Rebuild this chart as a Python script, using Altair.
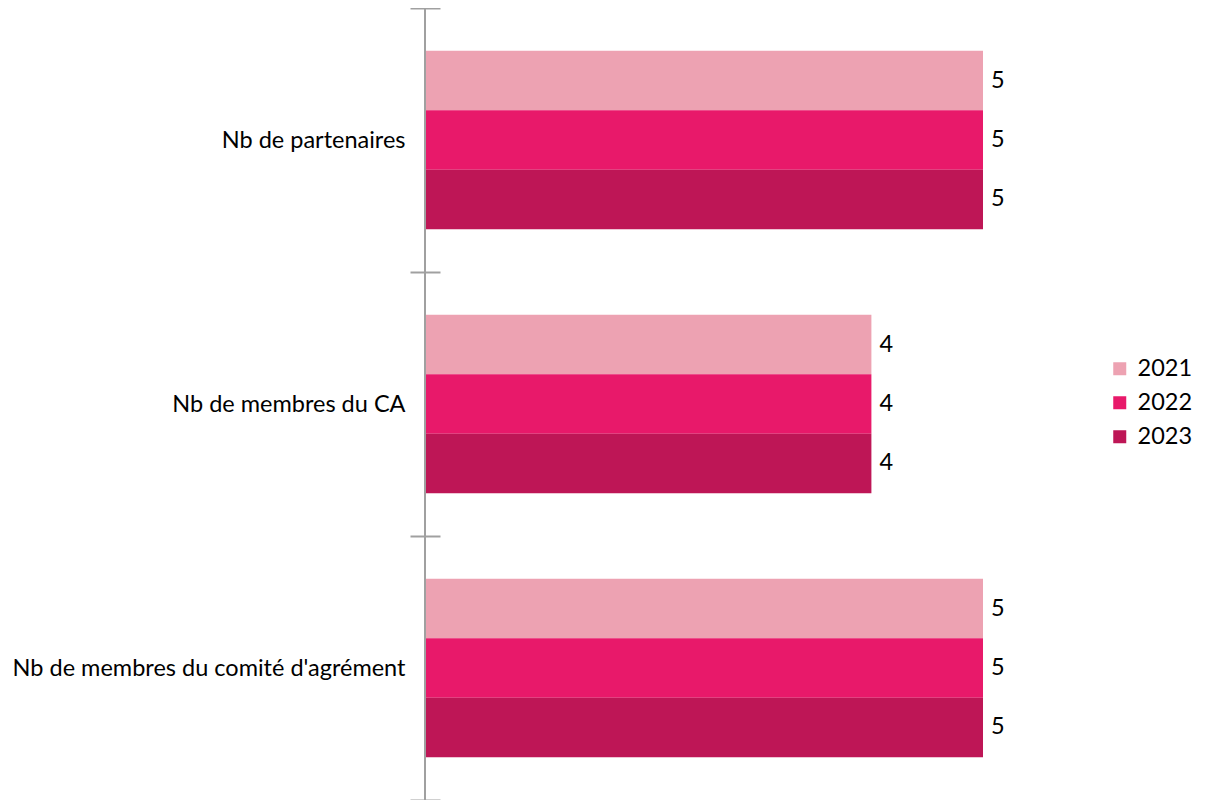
import altair as alt
import pandas as pd

categories = ["Nb de partenaires", "Nb de membres du CA", "Nb de membres du comité d'agrément"]
years = ["2021", "2022", "2023"]
values_2021 = [5, 4, 5]
values_2022 = [5, 4, 5]
values_2023 = [5, 4, 5]
colors = ["#EDA2B2", "#E8196A", "#BE1656"]

rows = []
for y, vals in zip(years, [values_2021, values_2022, values_2023]):
    for c, v in zip(categories, vals):
        rows.append({"cat": c, "year": y, "value": v})
df = pd.DataFrame(rows)

W = 558
H = 792
FONT = "Lato"
FS = 23.5

y_enc = alt.Y("cat:N", sort=categories, title=None,
              scale=alt.Scale(paddingInner=0, paddingOuter=0),
              axis=alt.Axis(tickBand="extent", tickSize=30, offset=-15, domain=False,
                            tickColor="#A0A0A0", tickWidth=2, labelPadding=5,
                            labelFont=FONT, labelFontSize=FS, labelColor="#000000",
                            labelLimit=500))
yoff = alt.YOffset("year:N", sort=years, scale=alt.Scale(paddingInner=0, paddingOuter=0.72))
x_enc = alt.X("value:Q", scale=alt.Scale(domain=[0, 5], nice=False), axis=None)

bars = alt.Chart(df).mark_bar().encode(
    y=y_enc, yOffset=yoff, x=x_enc,
    color=alt.Color("year:N", sort=years,
                    scale=alt.Scale(domain=years, range=colors),
                    legend=alt.Legend(title=None, orient="none", legendX=683, legendY=349,
                                      symbolType="square", symbolSize=169, symbolStrokeWidth=0,
                                      labelFont=FONT, labelFontSize=FS, labelColor="#000000",
                                      rowPadding=9, labelOffset=6, padding=0)),
)

labels = alt.Chart(df).mark_text(align="left", baseline="middle", dx=8,
                                 font=FONT, fontSize=FS, color="#000000").encode(
    y=alt.Y("cat:N", sort=categories), yOffset=yoff, x=x_enc, text="value:Q")

domain_line = alt.Chart(pd.DataFrame({"a": [0]})).mark_rule(color="#A0A0A0", strokeWidth=2).encode(
    x=alt.value(0), y=alt.value(0), y2=alt.value(H))

chart = alt.layer(bars, labels, domain_line).properties(
    width=W, height=H,
    autosize=alt.AutoSizeParams(type="none"),
    padding={"left": 417, "top": 0, "right": 214, "bottom": 0},
).configure_view(stroke=None)

chart.save("out.html", embed_options={"renderer": "svg", "actions": False})
